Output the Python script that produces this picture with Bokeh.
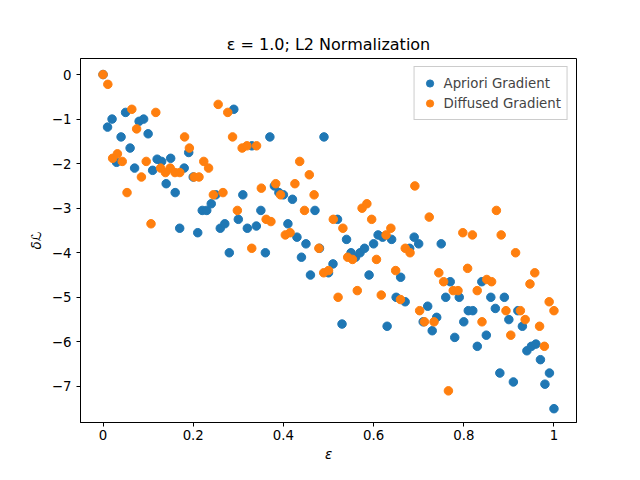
import numpy as np
from bokeh.plotting import figure
from bokeh.models import Label, Legend, LegendItem, FixedTicker
from bokeh.embed import file_html
from bokeh.resources import INLINE

# values in units of 1e-15, x in units of 1e-14
apriori = [0.0, -1.18, -1.0, -1.97, -1.4, -0.85, -1.65, -2.1, -1.05, -1.0, -1.33, -2.15, -1.9, -1.95,
           -2.45, -1.88, -2.65, -3.45, -2.1, -1.75, -2.3, -3.55, -3.05, -3.05, -2.9, -2.7, -3.45, -3.35,
           -4.0, -0.78, -3.25, -2.7, -3.45, -1.6, -3.4, -3.05, -4.0, -1.4, -2.5, -2.65, -2.7, -3.35,
           -2.8, -3.65, -4.1, -3.8, -4.5, -3.05, -3.9, -1.4, -4.45, -4.25, -3.25, -5.6, -3.7, -4.0,
           -4.1, -4.0, -3.9, -4.5, -3.8, -3.6, -3.65, -5.65, -3.7, -5.0, -4.55, -5.1, -3.9, -3.65,
           -3.8, -5.55, -5.2, -5.75, -5.45, -3.8, -5.0, -4.65, -5.9, -5.0, -5.55, -5.3, -5.3, -6.1,
           -4.65, -5.85, -5.0, -5.25, -6.7, -5.0, -5.5, -6.9, -5.3, -5.65, -6.2, -6.1, -6.05, -6.4,
           -6.95, -6.7, -7.5]
diffused = [0.0, -0.22, -1.88, -1.78, -1.95, -2.65, -0.78, -1.22, -2.3, -1.95, -3.35, -0.85, -2.1,
            -2.2, -2.1, -2.2, -2.2, -1.4, -1.65, -2.3, -2.3, -1.95, -2.1, -2.7, -0.67, -2.65, -0.85,
            -1.4, -3.05, -1.65, -1.6, -3.9, -1.6, -2.55, -3.25, -3.3, -2.45, -2.7, -3.6, -3.55, -2.45,
            -1.95, -3.05, -2.25, -2.7, -3.9, -4.45, -4.4, -3.25, -5.0, -3.45, -4.1, -4.15, -4.85, -3.0,
            -2.9, -3.25, -4.15, -4.95, -3.6, -3.45, -4.4, -5.05, -3.9, -4.0, -2.5, -5.3, -5.55, -3.2,
            -5.55, -4.45, -4.65, -7.1, -4.85, -4.85, -3.55, -4.35, -3.6, -4.85, -5.55, -4.6, -4.65,
            -3.05, -3.6, -5.3, -5.85, -4.0, -5.3, -5.5, -4.7, -4.45, -5.65, -6.1, -5.1, -5.3]
x_a = np.linspace(0, 1, len(apriori))
x_d = np.linspace(0, 1, len(diffused))

font = "DejaVu Sans"
p = figure(width=624, height=464, output_backend="svg", toolbar_location=None,
           x_range=(-0.05, 1.05), y_range=(-7.81, 0.36),
           min_border_left=80, min_border_right=48, min_border_top=58, min_border_bottom=41,
           title="ε = 1.0; L2 Normalization")
p.title.align = "center"
p.title.text_font = font
p.title.text_font_size = "12pt"
p.title.text_font_style = "normal"
p.title.text_color = "black"
p.grid.visible = False
p.outline_line_color = "black"

r1 = p.scatter(x_a, apriori, size=8.5, color="#1f77b4")
r2 = p.scatter(x_d, diffused, size=8.5, color="#ff7f0e")

p.xaxis.ticker = FixedTicker(ticks=[0, 0.2, 0.4, 0.6, 0.8, 1.0])
p.yaxis.ticker = FixedTicker(ticks=[0, -1, -2, -3, -4, -5, -6, -7])
p.xaxis.axis_label = "ε"
p.yaxis.axis_label = "δℒ"
for ax in (p.xaxis, p.yaxis):
    ax.major_label_text_font = font
    ax.major_label_text_font_size = "10pt"
    ax.major_label_text_color = "black"
    ax.axis_label_text_font = font
    ax.axis_label_text_font_size = "10pt"
    ax.axis_label_text_font_style = "italic"
    ax.axis_label_text_color = "black"
    ax.minor_tick_line_color = None
    ax.major_tick_out = 4
    ax.major_tick_in = 0
    ax.axis_line_color = "black"
p.xaxis.axis_label_standoff = 4
p.xaxis.major_label_standoff = 3

p.add_layout(Label(x=-0.05, y=0.36, text="1e-15", text_font=font, text_font_size="10pt",
                   y_offset=4))
p.add_layout(Label(x=1.05, y=-7.81, text="1e-14", text_font=font, text_font_size="10pt",
                   text_align="right", text_baseline="top", y_offset=-22))

legend = Legend(items=[LegendItem(label="Apriori Gradient", renderers=[r1]),
                       LegendItem(label="Diffused Gradient", renderers=[r2])],
                location="top_right", label_text_font=font, label_text_font_size="10pt",
                border_line_color="#cccccc", border_line_alpha=1.0, spacing=0, padding=6,
                margin=8, glyph_width=18, label_height=16)
p.add_layout(legend)

open("out.html", "w").write(file_html(p, INLINE))
